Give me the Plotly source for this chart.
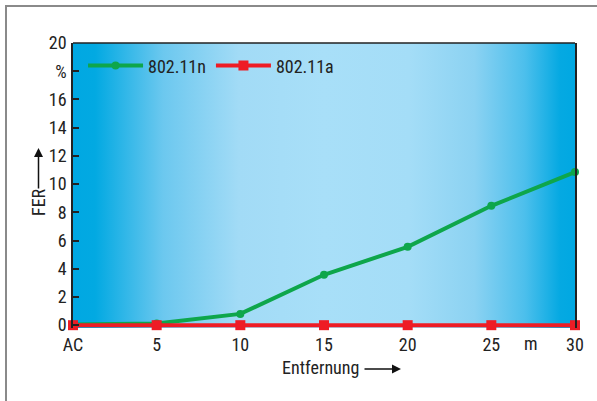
import base64
import plotly.graph_objects as go

# Distance in metres ("AC" = at the access point)
distance = [0, 5, 10, 15, 20, 25, 30]
tick_labels = ["AC", "5", "10", "15", "20", "25", "30"]

# Frame error rate in percent
fer_80211n = [0.05, 0.12, 0.8, 3.57, 5.55, 8.46, 10.85]
fer_80211a = [0, 0, 0, 0, 0, 0, 0]

y_ticks = [0, 2, 4, 6, 8, 10, 12, 14, 16, 18, 20]
y_tick_text = ["0", "2", "4", "6", "8", "10", "12", "14", "16", "%", "20"]

FONT = "Roboto Condensed, DejaVu Sans Condensed, Liberation Sans Narrow, Open Sans Condensed, sans-serif"
GREEN = "#0ea64b"
RED = "#ee1c25"

# Horizontal blue gradient used as the plot-area background
stops = [
    (0.00, "#00a8e2"), (0.044, "#02a9e2"), (0.18, "#6cc8ef"), (0.33, "#a2dbf6"),
    (0.50, "#a8dff8"), (0.67, "#a4ddf7"), (0.80, "#8bd2f2"), (0.90, "#4cbfec"),
    (0.97, "#05a9e2"), (1.00, "#00a8e2"),
]
stop_svg = "".join(f'<stop offset="{o}" stop-color="{c}"/>' for o, c in stops)
svg = (
    '<svg xmlns="http://www.w3.org/2000/svg" width="500" height="100" preserveAspectRatio="none">'
    f'<defs><linearGradient id="g" x1="0" y1="0" x2="1" y2="0">{stop_svg}</linearGradient></defs>'
    '<rect width="500" height="100" fill="url(#g)"/></svg>'
)
bg_src = "data:image/svg+xml;base64," + base64.b64encode(svg.encode()).decode()

fig = go.Figure()

fig.add_trace(go.Scatter(
    x=distance, y=fer_80211n, name="802.11n", mode="lines+markers",
    line=dict(color=GREEN, width=4), marker=dict(symbol="circle", size=8, color=GREEN),
    cliponaxis=False,
))
fig.add_trace(go.Scatter(
    x=distance, y=fer_80211a, name="802.11a", mode="lines+markers",
    line=dict(color=RED, width=4), marker=dict(symbol="square", size=10, color=RED),
    cliponaxis=False,
))

L, R, T, B = 73, 22, 43, 73
W, H = 597, 401
pw, ph = W - L - R, H - T - B


def px(x):
    return (x - L) / pw


def py(y):
    return (H - B - y) / ph


annotations = [
    # unit label on the x axis
    dict(x=27.4, y=py(343), xref="x", yref="paper", xanchor="center", yanchor="middle",
         text="m", showarrow=False, font=dict(family=FONT, size=18, color="#222")),
    # x axis title and arrow
    dict(x=px(320), y=py(367), xref="paper", yref="paper", xanchor="center", yanchor="middle",
         text="Entfernung", showarrow=False, font=dict(family=FONT, size=18, color="#222")),
    dict(x=px(401), y=py(369), xref="paper", yref="paper", text="", showarrow=True,
         ax=-38, ay=0, arrowhead=2, arrowsize=1.2, arrowwidth=1.5, arrowcolor="#111"),
    # y axis title and arrow
    dict(x=px(38), y=py(202), xref="paper", yref="paper", xanchor="center", yanchor="middle",
         text="FER", textangle=-90, showarrow=False,
         font=dict(family=FONT, size=18, color="#222")),
    dict(x=px(38.5), y=py(148), xref="paper", yref="paper", text="", showarrow=True,
         ax=0, ay=42, arrowhead=2, arrowsize=1.2, arrowwidth=1.5, arrowcolor="#111"),
]

fig.update_layout(
    width=W, height=H,
    margin=dict(l=L, r=R, t=T, b=B),
    paper_bgcolor="white",
    plot_bgcolor="rgba(0,0,0,0)",
    font=dict(family=FONT, size=18, color="#222"),
    showlegend=True,
    legend=dict(
        orientation="h", x=0.02, y=0.985, xanchor="left", yanchor="top",
        bgcolor="rgba(0,0,0,0)", itemwidth=55, font=dict(family=FONT, size=18, color="#222"),
        tracegroupgap=0,
    ),
    xaxis=dict(
        range=[0, 30], tickvals=distance, ticktext=tick_labels, showgrid=False,
        zeroline=False, showline=False, ticks="", mirror=False, ticklabelstandoff=4,
        tickfont=dict(family=FONT, size=18, color="#222"),
    ),
    yaxis=dict(
        range=[-0.2, 20], tickvals=y_ticks, ticktext=y_tick_text, showgrid=False,
        zeroline=False, showline=True, linecolor="#222", linewidth=1.5, mirror=True,
        ticks="inside", ticklen=6, tickcolor="#222", tickwidth=1.5, ticklabelstandoff=1,
        tickfont=dict(family=FONT, size=18, color="#222"),
    ),
    images=[dict(
        source=bg_src, xref="paper", yref="paper", x=0, y=1, sizex=1, sizey=1,
        xanchor="left", yanchor="top", sizing="stretch", layer="below",
    )],
    shapes=[
        # outer frame around the figure
        dict(type="line", xref="paper", yref="paper", x0=px(6), x1=px(600), y0=py(6), y1=py(6),
             line=dict(color="#8a8a8a", width=2)),
        dict(type="line", xref="paper", yref="paper", x0=px(6), x1=px(6), y0=py(5), y1=py(405),
             line=dict(color="#8a8a8a", width=2)),
        # top border of the plot area
        dict(type="line", xref="paper", yref="paper", x0=0, x1=1, y0=1, y1=1,
             line=dict(color="#222", width=1.5)),
    ],
    annotations=annotations,
)

fig.write_html("out.html")
